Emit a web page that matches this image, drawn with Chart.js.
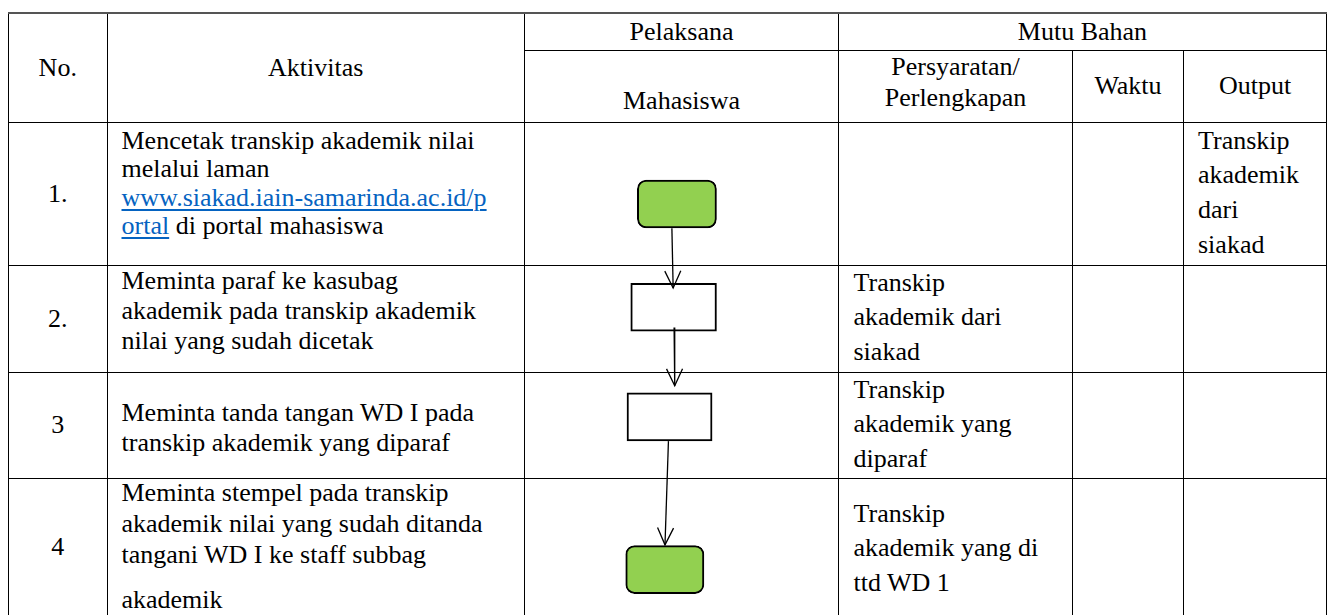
<!DOCTYPE html>
<html lang="id">
<head>
<meta charset="utf-8">
<title>Alur Legalisir Transkip Akademik</title>
<script src="https://cdn.jsdelivr.net/npm/chart.js@4.4.1/dist/chart.umd.min.js"></script>
<style>
  html, body { margin:0; padding:0; background:#fff; }
  body { width:1328px; height:615px; overflow:hidden; position:relative;
         font-family:"Liberation Serif","Times New Roman",serif; font-size:26px; color:#000; }
  #tabel { position:absolute; left:8px; top:12px; width:1318px;
           border-collapse:collapse; table-layout:fixed; }
  #tabel td { border:1px solid #000; padding:0; vertical-align:top; white-space:nowrap; }
  #tabel tr.h1 td { border-top:2px solid #555; }
  #tabel tr.r4 td { border-bottom:none; }
  .hd { text-align:center; vertical-align:middle !important; line-height:34px; }
  .mhs-h { vertical-align:bottom !important; padding-bottom:4px !important; }
  .syarat-h { vertical-align:top !important; line-height:31.7px !important; }
  .syarat-h div { margin-top:0; }
  .no { text-align:center; vertical-align:middle !important; line-height:34px; }
  .akt { padding-left:14px !important; }
  .syarat { padding-left:14.5px !important; line-height:34.7px; }
  .out { padding-left:14px !important; line-height:34.7px; }
  a { color:#0563C1; text-decoration:underline; text-underline-offset:3px; }
  tr.h1 { height:37px; } tr.h2 { height:72px; }
  tr.r1 { height:143px; } tr.r2 { height:107px; } tr.r3 { height:106px; } tr.r4 { height:133px; }
  .r1 .akt > div { padding-top:4px; line-height:28.5px; }
  .r2 .akt > div { padding-top:0; line-height:30px; }
  .r3 .akt > div { padding-top:25px; line-height:30px; }
  .r4 .akt > div { margin-top:-2px; line-height:31px; }
  .r4 .akt > div > div:last-child { margin-top:14px; }
  .r1 .out > div { padding-top:1px; }
  .r4 .syarat > div { padding-top:18px; }
  #alur { position:absolute; left:524px; top:121px; width:314px; height:494px; z-index:2; pointer-events:none; }
</style>
</head>
<body>
<table id="tabel"><colgroup>
  <col style="width:98.5px"><col style="width:417.5px"><col style="width:314px">
  <col style="width:234px"><col style="width:111px"><col style="width:143px">
</colgroup><tbody></tbody></table>
<div id="alur"><canvas id="alurChart"></canvas></div>
<script>
// Judul kolom
const kolomAtas = ['No.', 'Aktivitas', 'Pelaksana', 'Mutu Bahan'];
const kolomBawah = ['Mahasiswa', ['Persyaratan/', 'Perlengkapan'], 'Waktu', 'Output'];

// Isi tabel per langkah
const nomor = ['1.', '2.', '3', '4'];
const aktivitas = [
  ['Mencetak transkip akademik nilai', 'melalui laman',
   [{a:'www.siakad.iain-samarinda.ac.id/p'}], [{a:'ortal'}, ' di portal mahasiswa']],
  ['Meminta paraf ke kasubag', 'akademik pada transkip akademik', 'nilai yang sudah dicetak'],
  ['Meminta tanda tangan WD I pada', 'transkip akademik yang diparaf'],
  ['Meminta stempel pada transkip', 'akademik nilai yang sudah ditanda', 'tangani WD I ke staff subbag', 'akademik']
];
const persyaratan = [
  [],
  ['Transkip', 'akademik dari', 'siakad'],
  ['Transkip', 'akademik yang', 'diparaf'],
  ['Transkip', 'akademik yang di', 'ttd WD 1']
];
const waktu = ['', '', '', ''];
const output = [['Transkip', 'akademik', 'dari', 'siakad'], [], [], []];

// Simbol alur di kolom Mahasiswa (posisi dalam % lebar / tinggi kolom)
const bentuk = ['terminal', 'proses', 'proses', 'terminal'];
const kotakKiri = [36.1, 34.0, 32.8, 32.4];
const kotakKanan = [61.3, 61.3, 59.9, 57.3];
const kotakTengah = [16.8, 37.7, 59.9, 90.8];

// Panah penghubung: titik awal dan ujung
const panahAwalX = [47.1, 47.8, 46.0];
const panahAwalY = [21.7, 41.8, 64.8];
const panahUjungX = [47.5, 48.0, 44.9];
const panahUjungY = [33.8, 53.6, 85.8];

function baris(seg) {
  if (typeof seg === 'string') return seg;
  return seg.map(s => typeof s === 'string' ? s : `<a href="#">${s.a}</a>`).join('');
}

function renderTabel() {
  const tb = document.querySelector('#tabel tbody');
  const label = x => Array.isArray(x) ? `<div>${x.join('<br>')}</div>` : x;
  let html = `<tr class="h1">
      <td rowspan="2" class="hd">${kolomAtas[0]}</td>
      <td rowspan="2" class="hd">${kolomAtas[1]}</td>
      <td class="hd">${kolomAtas[2]}</td>
      <td colspan="3" class="hd">${kolomAtas[3]}</td>
    </tr>
    <tr class="h2">
      <td class="hd mhs-h">${label(kolomBawah[0])}</td>
      <td class="hd syarat-h">${label(kolomBawah[1])}</td>
      <td class="hd">${label(kolomBawah[2])}</td>
      <td class="hd">${label(kolomBawah[3])}</td>
    </tr>`;
  html += nomor.map((n, i) => (
    `<tr class="r${i+1}">
      <td class="no">${n}</td>
      <td class="akt"><div>${aktivitas[i].map(l => `<div>${baris(l)}</div>`).join('')}</div></td>
      <td></td>
      <td class="syarat"><div>${persyaratan[i].join('<br>')}</div></td>
      <td>${waktu[i]}</td>
      <td class="out"><div>${output[i].join('<br>')}</div></td>
    </tr>`
  )).join('');
  tb.innerHTML = html;
}

const mataPanah = {
  id: 'mataPanah',
  afterDatasetsDraw(chart) {
    const c = chart.ctx;
    chart.data.datasets.forEach((ds, i) => {
      if (ds.type !== 'line') return;
      const pts = chart.getDatasetMeta(i).data;
      const a = pts[0], b = pts[pts.length - 1];
      const ang = Math.atan2(b.y - a.y, b.x - a.x);
      const len = 17, lebar = 8;
      const sp = Math.atan2(lebar, len), r = Math.hypot(len, lebar);
      c.save();
      c.strokeStyle = '#000';
      c.lineWidth = 1.3;
      c.beginPath();
      c.moveTo(b.x - r * Math.cos(ang - sp), b.y - r * Math.sin(ang - sp));
      c.lineTo(b.x, b.y);
      c.lineTo(b.x - r * Math.cos(ang + sp), b.y - r * Math.sin(ang + sp));
      c.stroke();
      c.restore();
    });
  }
};

function renderAlur() {
  const ctx = document.getElementById('alurChart').getContext('2d');
  const kotak = {
    type: 'bar',
    indexAxis: 'y',
    data: bentuk.map((b, i) => ({ x: [kotakKiri[i], kotakKanan[i]], y: kotakTengah[i] })),
    backgroundColor: c => bentuk[c.dataIndex] === 'terminal' ? '#92D050' : '#FFFFFF',
    borderRadius: c => bentuk[c.dataIndex] === 'terminal' ? 9 : 0,
    borderColor: '#000',
    borderWidth: 2,
    borderSkipped: false,
    barThickness: 48,
    order: 2
  };
  const panah = panahAwalX.map((x, i) => ({
    type: 'line',
    data: [{ x: x, y: panahAwalY[i] }, { x: panahUjungX[i], y: panahUjungY[i] }],
    borderColor: '#000',
    borderWidth: 1.3,
    pointRadius: 0,
    fill: false,
    tension: 0,
    order: 1
  }));
  new Chart(ctx, {
    type: 'bar',
    data: { datasets: [kotak, ...panah] },
    options: {
      animation: false,
      responsive: true,
      maintainAspectRatio: false,
      events: [],
      layout: { padding: 0 },
      plugins: { legend: { display: false }, tooltip: { enabled: false } },
      scales: {
        x: { type: 'linear', min: 0, max: 100, offset: false, display: false },
        y: { type: 'linear', min: 0, max: 100, reverse: true, offset: false, display: false }
      }
    },
    plugins: [mataPanah]
  });
}

renderTabel();
renderAlur();
</script>
</body>
</html>
